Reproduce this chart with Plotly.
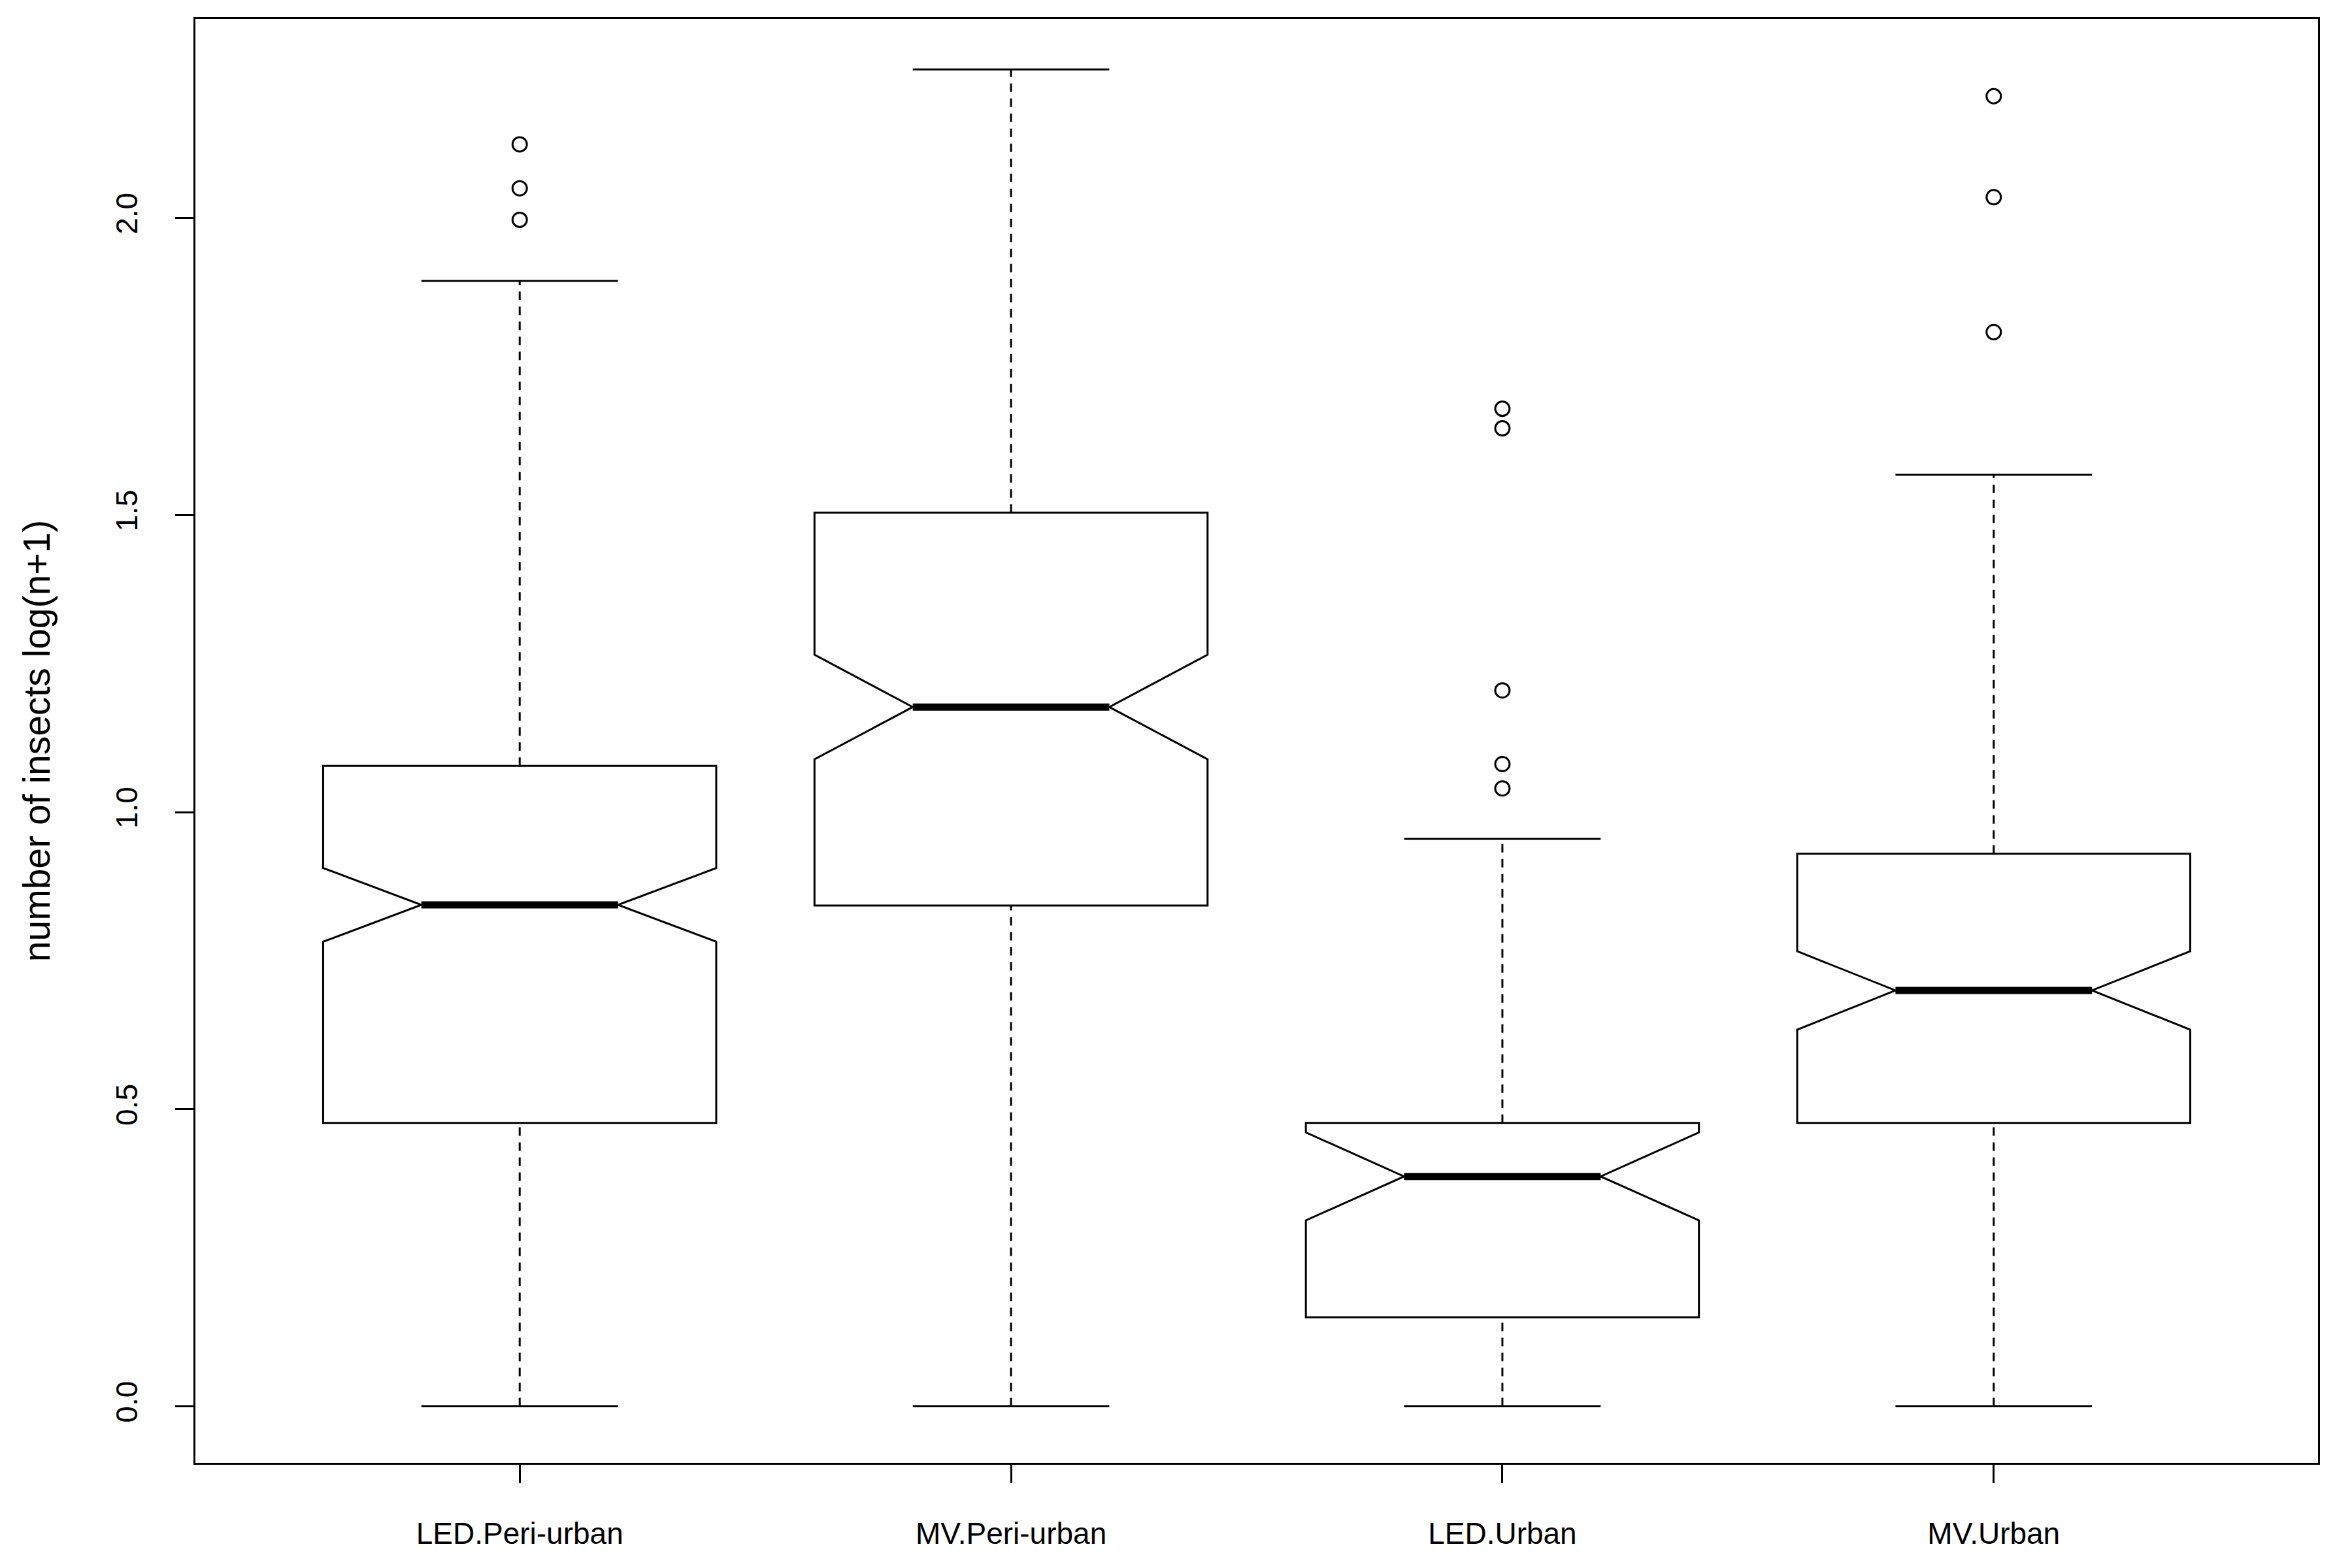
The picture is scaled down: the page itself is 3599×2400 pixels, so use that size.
import plotly.graph_objects as go

GROUPS = ["LED.Peri-urban", "MV.Peri-urban", "LED.Urban", "MV.Urban"]
LOWER_WHISKER = [0.0, 0.0, 0.0, 0.0]
Q1 = [0.477, 0.843, 0.150, 0.477]
MEDIAN = [0.844, 1.177, 0.387, 0.700]
Q3 = [1.078, 1.504, 0.477, 0.930]
UPPER_WHISKER = [1.894, 2.250, 0.955, 1.568]
NOTCH_SPAN = [0.062, 0.088, 0.074, 0.066]
OUTLIERS = [
    [2.124, 2.050, 1.997],
    [],
    [1.679, 1.646, 1.205, 1.081, 1.040],
    [2.205, 2.035, 1.808],
]
Y_TICKS = [0.0, 0.5, 1.0, 1.5, 2.0]
Y_TITLE = "number of insects log(n+1)"

BOX_WIDTH = 0.8
HALF_STAPLE = 0.2
LINE_W = 3
FONT = dict(family="Liberation Sans, Arial, sans-serif", color="black", size=46)

pos = list(range(1, len(GROUPS) + 1))

fig = go.Figure()

# boxes with notches (whiskers drawn separately so they can be dashed)
fig.add_trace(go.Box(
    x=pos,
    q1=Q1, median=MEDIAN, q3=Q3,
    lowerfence=Q1, upperfence=Q3,
    notched=True, notchspan=NOTCH_SPAN, notchwidth=0.25,
    width=BOX_WIDTH, whiskerwidth=0,
    fillcolor="white",
    line=dict(color="black", width=LINE_W),
    boxpoints=False,
    showlegend=False,
    hoverinfo="skip",
))

# dashed whiskers
wx, wy = [], []
for p, lo, a, b, hi in zip(pos, LOWER_WHISKER, Q1, Q3, UPPER_WHISKER):
    wx += [p, p, None, p, p, None]
    wy += [b, hi, None, lo, a, None]
fig.add_trace(go.Scatter(
    x=wx, y=wy, mode="lines",
    line=dict(color="black", width=LINE_W, dash="13px,10px"),
    showlegend=False, hoverinfo="skip",
))

# staples
sx, sy = [], []
for p, lo, hi in zip(pos, LOWER_WHISKER, UPPER_WHISKER):
    sx += [p - HALF_STAPLE, p + HALF_STAPLE, None, p - HALF_STAPLE, p + HALF_STAPLE, None]
    sy += [lo, lo, None, hi, hi, None]
fig.add_trace(go.Scatter(
    x=sx, y=sy, mode="lines",
    line=dict(color="black", width=LINE_W),
    showlegend=False, hoverinfo="skip",
))

# thick medians
mx, my = [], []
for p, m in zip(pos, MEDIAN):
    mx += [p - HALF_STAPLE, p + HALF_STAPLE, None]
    my += [m, m, None]
fig.add_trace(go.Scatter(
    x=mx, y=my, mode="lines",
    line=dict(color="black", width=11),
    showlegend=False, hoverinfo="skip",
))

# outliers
ox, oy = [], []
for p, vals in zip(pos, OUTLIERS):
    ox += [p] * len(vals)
    oy += vals
fig.add_trace(go.Scatter(
    x=ox, y=oy, mode="markers",
    marker=dict(symbol="circle-open", size=22, color="black", line=dict(width=3, color="black")),
    showlegend=False, hoverinfo="skip",
))

axis_common = dict(
    showline=True, mirror=True, linecolor="black", linewidth=LINE_W,
    showgrid=False, zeroline=False,
    ticks="outside", ticklen=28, tickwidth=LINE_W, tickcolor="black",
    tickfont=FONT,
)

fig.update_layout(
    width=3599, height=2400,
    margin=dict(l=291, r=60, t=21, b=169),
    paper_bgcolor="white", plot_bgcolor="white",
    font=FONT,
    xaxis=dict(
        range=[0.34, 4.66], tickvals=pos, ticktext=GROUPS,
        ticklabelstandoff=38,
        **axis_common,
    ),
    yaxis=dict(
        range=[-0.095, 2.335], tickvals=Y_TICKS,
        ticktext=[f"{v:.1f}" for v in Y_TICKS],
        tickangle=-90, ticklabelstandoff=40,
        title=dict(text=Y_TITLE, font=dict(size=57), standoff=73),
        **axis_common,
    ),
)

fig.write_html("out.html")
